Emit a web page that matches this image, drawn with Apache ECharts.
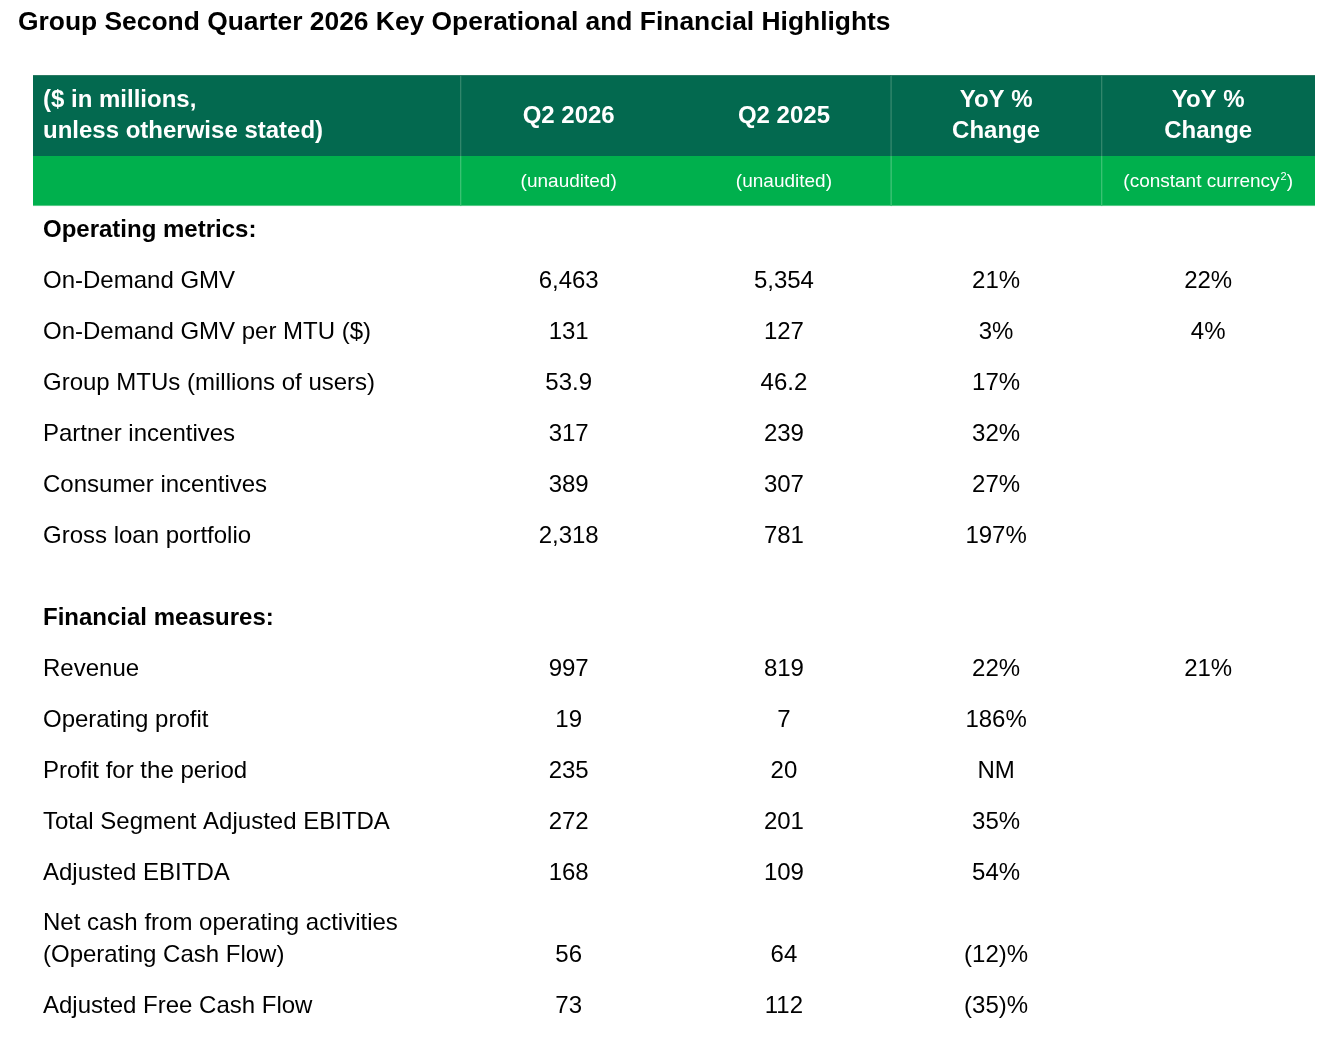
<!DOCTYPE html>
<html><head><meta charset="utf-8">
<script src="https://cdn.jsdelivr.net/npm/echarts@6/dist/echarts.min.js"></script>
<style>html,body{margin:0;padding:0;background:#fff}#c{width:1342px;height:1046px}</style>
</head><body><div id="c"></div>
<script>
// ---------------- data ----------------
const titleText = 'Group Second Quarter 2026 Key Operational and Financial Highlights';
const columnHeaders = ['($ in millions,\nunless otherwise stated)', 'Q2 2026', 'Q2 2025', 'YoY %\nChange', 'YoY %\nChange'];
const subHeaders = ['', '(unaudited)', '(unaudited)', '', '(constant currency{sup|2})'];
const sectionTitles = ['Operating metrics:', 'Financial measures:'];
const metrics = ['On-Demand GMV', 'On-Demand GMV per MTU ($)', 'Group MTUs (millions of users)', 'Partner incentives', 'Consumer incentives', 'Gross loan portfolio', 'Revenue', 'Operating profit', 'Profit for the period', 'Total Segment Adjusted EBITDA', 'Adjusted EBITDA', 'Net cash from operating activities\n(Operating Cash Flow)', 'Adjusted Free Cash Flow'];
const metricSection = [0, 0, 0, 0, 0, 0, 1, 1, 1, 1, 1, 1, 1];
const q2_2026 = [6463, 131, 53.9, 317, 389, 2318, 997, 19, 235, 272, 168, 56, 73];
const q2_2025 = [5354, 127, 46.2, 239, 307, 781, 819, 7, 20, 201, 109, 64, 112];
const yoyChange = [21, 3, 17, 32, 27, 197, 22, 186, 'NM', 35, 54, -12, -35];
const yoyChangeCC = [22, 4, null, null, null, null, 21, null, null, null, null, null, null];

// ---------------- layout / style ----------------
const FONT = "'Liberation Sans', Arial, Helvetica, sans-serif";
const DARK = '#03694f', BRIGHT = '#00b04d';
const DARK_SEP = '#2f8569', BRIGHT_SEP = '#3cc274';
const colSpan = [[0, 2], [2, 3], [3, 4.015], [4.015, 5], [5, 6]];
const colSeparator = [false, true, false, true, true];
const HEAD_END = 1.59, SUB_END = 2.57;
const FIRST_ROW = 3.05, STEP = 1, EXTRA = 0.61;
const BODY_SIZE = 24, HEAD_SIZE = 24, SUB_SIZE = 19, PAD = 10, LINE_H = 32;

const numFmt = new Intl.NumberFormat('en-US', { maximumFractionDigits: 1 });
const fmtNum = v => (v === null || v === undefined) ? '' : numFmt.format(v);
const fmtPct = v => {
  if (v === null || v === undefined) return '';
  if (typeof v === 'string') return v;
  return v < 0 ? '(' + numFmt.format(-v) + ')%' : numFmt.format(v) + '%';
};

// body cells built from the arrays
const cells = [];
let yPos = FIRST_ROW - STEP, prevSection = -1;
metrics.forEach((m, i) => {
  const s = metricSection[i];
  if (s !== prevSection) {
    yPos += STEP + (prevSection === -1 ? 0 : EXTRA);
    cells.push({ x: colSpan[0][0], y: yPos, text: sectionTitles[s], kind: 'section', lines: 1 });
    prevSection = s;
  }
  const lines = m.split('\n').length;
  yPos += STEP + EXTRA * (lines - 1);
  cells.push({ x: colSpan[0][0], y: yPos, text: m, kind: 'label', lines });
  const vals = [fmtNum(q2_2026[i]), fmtNum(q2_2025[i]), fmtPct(yoyChange[i]), fmtPct(yoyChangeCC[i])];
  vals.forEach((t, k) => {
    if (t !== '') {
      const sp = colSpan[k + 1];
      cells.push({ x: (sp[0] + sp[1]) / 2, y: yPos, text: t, kind: 'value', lines: 1 });
    }
  });
});

const chart = echarts.init(document.getElementById('c'), null, { renderer: 'canvas' });
chart.setOption({
  animation: false,
  backgroundColor: '#ffffff',
  title: {
    text: titleText, left: 18, top: 10, padding: 0,
    textStyle: { fontFamily: FONT, fontSize: 26.4, fontWeight: 'bold', color: '#000' }
  },
  grid: { left: 33, right: 27, top: 75, bottom: 2 },
  xAxis: { type: 'value', min: 0, max: 6, show: false },
  yAxis: { type: 'value', min: 0, max: 19, inverse: true, show: false },
  series: [
    {
      type: 'custom',
      name: 'header',
      silent: true,
      data: columnHeaders.map((h, i) => [colSpan[i][0], colSpan[i][1], i]),
      renderItem(params, api) {
        const i = api.value(2);
        const tl = api.coord([api.value(0), 0]);
        const mid = api.coord([api.value(1), HEAD_END]);
        const br = api.coord([api.value(1), SUB_END]);
        const children = [
          { type: 'rect', shape: { x: tl[0], y: tl[1], width: mid[0] - tl[0], height: mid[1] - tl[1] }, style: { fill: DARK } },
          { type: 'rect', shape: { x: tl[0], y: mid[1], width: br[0] - tl[0], height: br[1] - mid[1] }, style: { fill: BRIGHT } },
          { type: 'line', shape: { x1: tl[0], y1: tl[1] + 0.5, x2: br[0], y2: tl[1] + 0.5 }, style: { stroke: '#2b7a62', lineWidth: 1 } },
          { type: 'line', shape: { x1: tl[0], y1: br[1] - 0.5, x2: br[0], y2: br[1] - 0.5 }, style: { stroke: '#5ccb8a', lineWidth: 1 } }
        ];
        if (colSeparator[i]) {
          children.push({ type: 'line', shape: { x1: tl[0] + 0.5, y1: tl[1], x2: tl[0] + 0.5, y2: mid[1] }, style: { stroke: DARK_SEP, lineWidth: 1 } });
          children.push({ type: 'line', shape: { x1: tl[0] + 0.5, y1: mid[1], x2: tl[0] + 0.5, y2: br[1] }, style: { stroke: BRIGHT_SEP, lineWidth: 1 } });
        }
        const left = i === 0;
        const cx = left ? tl[0] + PAD : (tl[0] + br[0]) / 2 + (i < 3 ? 1.5 : 0);
        children.push({
          type: 'text', x: cx, y: (tl[1] + mid[1]) / 2 + 0.5,
          style: { text: columnHeaders[i], fill: '#fff', fontFamily: FONT, fontSize: HEAD_SIZE, fontWeight: 'bold', align: left ? 'left' : 'center', verticalAlign: 'middle', lineHeight: 31 }
        });
        if (subHeaders[i]) {
          children.push({
            type: 'text', x: cx, y: (mid[1] + br[1]) / 2 + 1,
            style: {
              text: subHeaders[i], fill: '#fff', fontFamily: FONT, fontSize: SUB_SIZE, align: 'center', verticalAlign: 'middle', lineHeight: 22,
              rich: { sup: { fontFamily: FONT, fontSize: 11, fill: '#fff', verticalAlign: 'top', lineHeight: 22, padding: [0, 0, 0, 1] } }
            }
          });
        }
        return { type: 'group', children };
      }
    },
    {
      type: 'custom',
      name: 'body',
      silent: true,
      data: cells.map((c, i) => [c.x, c.y, i]),
      renderItem(params, api) {
        const c = cells[api.value(2)];
        const p = api.coord([api.value(0), api.value(1)]);
        const isLeft = c.kind !== 'value';
        return {
          type: 'text',
          x: isLeft ? p[0] + PAD : p[0] + (p[0] < 860 ? 1.5 : 0),
          y: p[1] - (c.lines - 1) * LINE_H / 2,
          style: {
            text: c.text, fill: '#000', fontFamily: FONT, fontSize: BODY_SIZE,
            fontWeight: c.kind === 'section' ? 'bold' : 'normal',
            align: isLeft ? 'left' : 'center', verticalAlign: 'middle', lineHeight: LINE_H
          }
        };
      }
    }
  ]
});
</script></body></html>
